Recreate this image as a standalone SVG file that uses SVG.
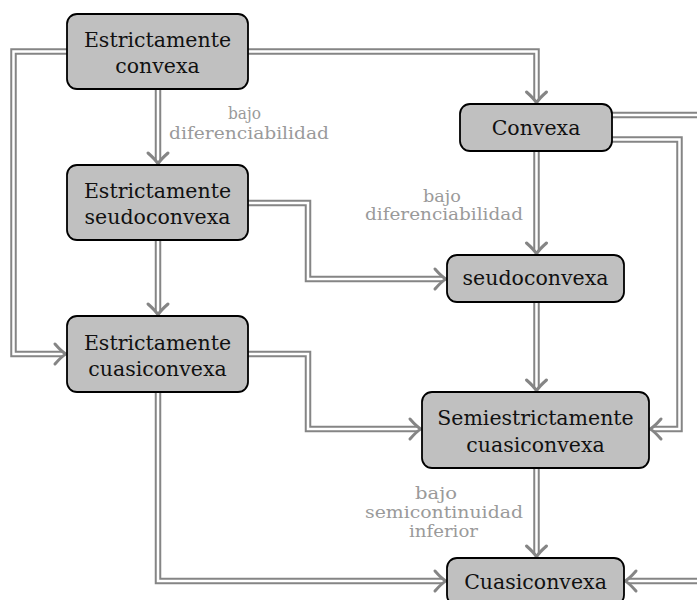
<svg xmlns="http://www.w3.org/2000/svg" xmlns:xlink="http://www.w3.org/1999/xlink" width="697" height="600" viewBox="0 0 697 600">
<style>
.outer{fill:none;stroke:#858585;stroke-width:6.5;stroke-linejoin:miter}
.inner{fill:none;stroke:#ffffff;stroke-width:2.5;stroke-linejoin:miter}
.arr{marker-end:url(#ah)}
.box{fill:#c0c0c0;stroke:#000;stroke-width:1.8}
.nt{font-family:"DejaVu Serif","Liberation Serif",serif;font-size:20.5px;fill:#111;text-anchor:middle}
.lb{font-family:"DejaVu Serif","Liberation Serif",serif;font-size:16.5px;fill:#9a9a9a;text-anchor:middle}
</style>
<defs>
<marker id="ah" markerUnits="userSpaceOnUse" orient="auto" markerWidth="40" markerHeight="40" refX="-3" refY="0" overflow="visible">
<path d="M-11,-10 Q-4,-2 0,0 Q-4,2 -11,10" fill="none" stroke="#858585" stroke-width="3" stroke-linecap="round" stroke-linejoin="round"/>
</marker>
<path id="p1" d="M158,89 V161"/>
<path id="p2" d="M248,51.5 H536.5 V100"/>
<path id="p3" d="M67,51.5 H13.5 V354 H63"/>
<path id="p4" d="M158,240 V312"/>
<path id="p5" d="M248,203 H308 V279 H443"/>
<path id="p6" d="M536.5,151 V251"/>
<path id="p7" d="M612,115 H700"/>
<path id="p8" d="M612,139.5 H679.5 V429 H653"/>
<path id="p9" d="M248,354 H308 V429 H418"/>
<path id="p10" d="M536.5,302 V388"/>
<path id="p11" d="M158,392 V581 H443"/>
<path id="p12" d="M536.5,468 V554"/>
<path id="p13" d="M700,581 H628"/>
</defs>
<g id="connectors">
<use href="#p1" class="outer"/><use href="#p1" class="inner arr"/>
<use href="#p2" class="outer"/><use href="#p2" class="inner arr"/>
<use href="#p3" class="outer"/><use href="#p3" class="inner arr"/>
<use href="#p4" class="outer"/><use href="#p4" class="inner arr"/>
<use href="#p5" class="outer"/><use href="#p5" class="inner arr"/>
<use href="#p6" class="outer"/><use href="#p6" class="inner arr"/>
<use href="#p7" class="outer"/><use href="#p7" class="inner"/>
<use href="#p8" class="outer"/><use href="#p8" class="inner arr"/>
<use href="#p9" class="outer"/><use href="#p9" class="inner arr"/>
<use href="#p10" class="outer"/><use href="#p10" class="inner arr"/>
<use href="#p11" class="outer"/><use href="#p11" class="inner arr"/>
<use href="#p12" class="outer"/><use href="#p12" class="inner arr"/>
<use href="#p13" class="outer"/><use href="#p13" class="inner arr"/>
</g>
<g id="labels">
<text class="lb" x="244.5" y="119" textLength="33" lengthAdjust="spacingAndGlyphs">bajo</text>
<text class="lb" x="249" y="139" textLength="160" lengthAdjust="spacingAndGlyphs">diferenciabilidad</text>
<text class="lb" x="442" y="202" textLength="38" lengthAdjust="spacingAndGlyphs">bajo</text>
<text class="lb" x="444" y="220" textLength="158" lengthAdjust="spacingAndGlyphs">diferenciabilidad</text>
<text class="lb" x="436" y="499" textLength="42" lengthAdjust="spacingAndGlyphs">bajo</text>
<text class="lb" x="444" y="518" textLength="158" lengthAdjust="spacingAndGlyphs">semicontinuidad</text>
<text class="lb" x="443.5" y="537" textLength="69" lengthAdjust="spacingAndGlyphs">inferior</text>
</g>
<g id="n-estr-convexa">
<rect class="box" x="67" y="14" width="181" height="75" rx="10"/>
<text class="nt" x="157.5" y="47">Estrictamente</text>
<text class="nt" x="157.5" y="73">convexa</text>
</g>
<g id="n-estr-seudoconvexa">
<rect class="box" x="67" y="165" width="181" height="75" rx="10"/>
<text class="nt" x="157.5" y="198">Estrictamente</text>
<text class="nt" x="157.5" y="224">seudoconvexa</text>
</g>
<g id="n-estr-cuasiconvexa">
<rect class="box" x="67" y="316" width="181" height="76" rx="10"/>
<text class="nt" x="157.5" y="349.5">Estrictamente</text>
<text class="nt" x="157.5" y="375.5">cuasiconvexa</text>
</g>
<g id="n-convexa">
<rect class="box" x="460" y="104" width="152" height="47" rx="10"/>
<text class="nt" x="536" y="135">Convexa</text>
</g>
<g id="n-seudoconvexa">
<rect class="box" x="447" y="255" width="177" height="47" rx="10"/>
<text class="nt" x="535.5" y="285">seudoconvexa</text>
</g>
<g id="n-semiestr">
<rect class="box" x="422" y="392" width="227" height="76" rx="10"/>
<text class="nt" x="535.5" y="425">Semiestrictamente</text>
<text class="nt" x="535.5" y="452">cuasiconvexa</text>
</g>
<g id="n-cuasiconvexa">
<rect class="box" x="447" y="558" width="177" height="47" rx="10"/>
<text class="nt" x="535.5" y="589">Cuasiconvexa</text>
</g>
</svg>
